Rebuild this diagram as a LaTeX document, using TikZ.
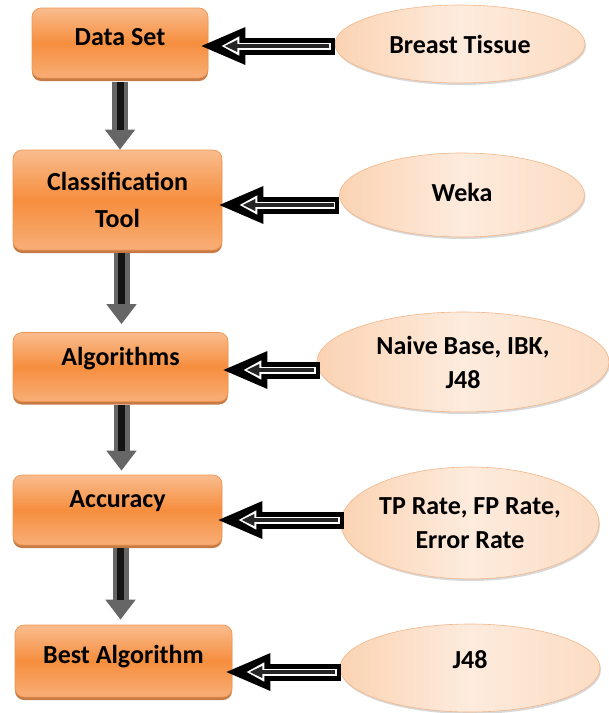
\documentclass[tikz,border=0pt]{standalone}
\usepackage{fontspec}
\setmainfont{Carlito}
\usetikzlibrary{shapes.geometric,arrows.meta,shadows,calc}
\definecolor{orgmid}{HTML}{F68E3E}
\definecolor{orgtop}{HTML}{F9BC8E}
\definecolor{orgbot}{HTML}{F8AE77}
\definecolor{orgedge}{HTML}{EE9650}
\definecolor{orgshadow}{HTML}{B85A18}
\definecolor{peachA}{HTML}{FBD3B3}
\definecolor{peachB}{HTML}{FDEBDD}
\definecolor{peachedge}{HTML}{F3B68A}
\tikzset{
  box/.style={draw=orgedge, line width=0.7pt, rounded corners=9pt,
    top color=orgtop, bottom color=orgbot, middle color=orgmid,
    inner sep=0pt, align=center,
    font=\bfseries\fontsize{26}{37}\selectfont,
    drop shadow={shadow xshift=0pt, shadow yshift=-3pt, fill=orgshadow, opacity=0.8}},
  oval/.style={ellipse, draw=peachedge, line width=0.6pt, inner sep=0pt,
    left color=peachA, right color=peachA!60!peachB, middle color=peachB,
    align=center, font=\bfseries\fontsize{26}{34}\selectfont,
    drop shadow={shadow xshift=1pt, shadow yshift=-2pt, fill=gray!60, opacity=0.5}},
  harrow/.style={draw=black, line width=17pt, -{Triangle[length=46pt,width=34pt]},
    postaction={draw=white, line width=7pt, shorten >=22pt, shorten <=4pt,
      -{Triangle[length=18pt,width=18pt]}},
    postaction={draw=black!85, line width=3.5pt, shorten >=25pt, shorten <=5.5pt,
      -{Triangle[length=13pt,width=11pt]}}},
  varrow/.style={draw=black!60, line width=16pt, -{Triangle[length=20pt,width=29pt]},
    postaction={draw=black!92, line width=7pt, shorten >=20pt, -{}}}
}
\begin{document}
\begin{tikzpicture}[x=1pt,y=-1pt]
\useasboundingbox (0,0) rectangle (609,713);
% boxes
\node[box, minimum width=176pt, minimum height=70pt] (b1) at (120,43)
  {\raisebox{6pt}[\height][\depth]{Data Set}};
\node[box, minimum width=209pt, minimum height=100pt] (b2) at (117.5,200)
  {Classification\\Tool};
\node[box, minimum width=215pt, minimum height=69pt] (b3) at (120.5,367)
  {\raisebox{8pt}[\height][\depth]{Algorithms}};
\node[box, minimum width=209pt, minimum height=70pt] (b4) at (117.5,510)
  {\raisebox{9pt}[\height][\depth]{Accuracy}};
\node[box, minimum width=217pt, minimum height=72pt] (b5) at (123.5,661)
  {\raisebox{4pt}[\height][\depth]{Best Algorithm}};
% ellipses
\node[oval, minimum width=250pt, minimum height=78pt] (e1) at (460,44) {Breast Tissue};
\node[oval, minimum width=245pt, minimum height=84pt] (e2) at (462,195)
  {\raisebox{3pt}[\height][\depth]{Weka}};
\node[oval, minimum width=292pt, minimum height=100pt] (e3) at (463,362)
  {Naive Base, IBK,\\J48};
\node[oval, minimum width=258pt, minimum height=112pt] (e4) at (470,523)
  {TP Rate, FP Rate,\\Error Rate};
\node[oval, minimum width=260pt, minimum height=88pt] (e5) at (470,668)
  {\raisebox{8pt}[\height][\depth]{J48}};
% horizontal arrows
\path ($(b1.east)+(-9,3)$) coordinate (h1);
\path ($(b2.east)+(-5,5)$) coordinate (h2);
\path ($(b3.east)+(-7,3)$) coordinate (h3);
\path ($(b4.east)+(-6,10)$) coordinate (h4);
\path ($(b5.east)+(-8,11)$) coordinate (h5);
\draw[harrow] (e1.west |- h1) -- (h1);
\draw[harrow] (e2.west |- h2) -- (h2);
\draw[harrow] ($(e3.west |- h3)+(3,0)$) -- (h3);
\draw[harrow] ($(e4.west |- h4)+(3,0)$) -- (h4);
\draw[harrow] ($(e5.west |- h5)+(1,0)$) -- (h5);
% vertical arrows
\draw[varrow] ($(b1.south)+(0,4)$) coordinate (v1) -- (v1 |- b2.north);
\draw[varrow] ($(b2.south)+(4,3)$) coordinate (v2) -- ($(v2 |- b3.north)+(0,-8)$);
\draw[varrow] ($(b3.south)+(1,3)$) coordinate (v3) -- ($(v3 |- b4.north)+(0,-4)$);
\draw[varrow] ($(b4.south)+(3,3)$) coordinate (v4) -- ($(v4 |- b5.north)+(0,-5)$);
\end{tikzpicture}
\end{document}
